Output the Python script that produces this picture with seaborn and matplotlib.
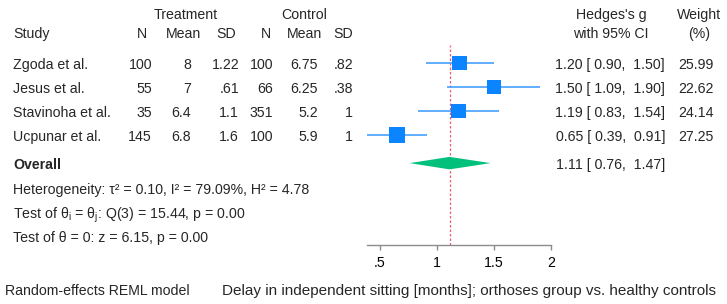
import matplotlib
matplotlib.use("Agg")
import matplotlib.pyplot as plt
import matplotlib.transforms as mtransforms
import seaborn as sns
import pandas as pd

# study data
studies = ["Zgoda et al.", "Jesus et al.", "Stavinoha et al.", "Ucpunar et al."]
t_n = ["100", "55", "35", "145"]
t_mean = ["8", "7", "6.4", "6.8"]
t_sd = ["1.22", ".61", "1.1", "1.6"]
c_n = ["100", "66", "351", "100"]
c_mean = ["6.75", "6.25", "5.2", "5.9"]
c_sd = [".82", ".38", "1", "1"]
g = [1.20, 1.50, 1.19, 0.65]
g_lo = [0.90, 1.09, 0.83, 0.39]
g_hi = [1.50, 1.90, 1.54, 0.91]
weight = [25.99, 22.62, 24.14, 27.25]

overall = (1.11, 0.76, 1.47)
stats_lines = [
    "Heterogeneity: τ² = 0.10, I² = 79.09%, H² = 4.78",
    r"Test of θ$_\mathregular{i}$ = θ$_\mathregular{j}$: Q(3) = 15.44, p = 0.00",
    "Test of θ = 0: z = 6.15, p = 0.00",
]
xticks = [0.5, 1, 1.5, 2]
xtick_labels = [".5", "1", "1.5", "2"]

sns.set_theme(style="white")
plt.rcParams["font.family"] = ["Liberation Sans", "DejaVu Sans"]
plt.rcParams["mathtext.fontset"] = "custom"
plt.rcParams["mathtext.rm"] = "Liberation Sans"
FS = 10.2

W, H = 727, 304
fig = plt.figure(figsize=(W / 100, H / 100), dpi=100)
ax = fig.add_axes([367 / W, (H - 245) / H, 184 / W, 200 / H])

df = pd.DataFrame({"g": g, "lo": g_lo, "hi": g_hi, "w": weight, "row": range(len(g))})
ov_row = 4.17

ax.hlines(df["row"], df["lo"], df["hi"], color="#45a0ff", lw=1.2, zorder=2)
sns.scatterplot(data=df, x="g", y="row", size="w", sizes=(0, 122), size_norm=(0, max(weight)),
                marker="s", color="#0a84ff", linewidth=0, legend=False, ax=ax, zorder=3)
est, lo, hi = overall
ax.fill([lo, est, hi, est], [ov_row, ov_row - 0.26, ov_row, ov_row + 0.26],
        color="#00c07c", lw=0, zorder=3)
ax.axvline(est, color="#ee5a78", lw=0.9, ls=(0, (2, 1.6)), zorder=1)

ax.set_xlim(min(g_lo) - 0.004, 2.0)
ax.set_ylim(7.58, -0.75)
ax.set_xticks(xticks)
ax.set_xticklabels(xtick_labels, fontsize=FS)
ax.set_yticks([])
ax.set_xlabel("")
ax.set_ylabel("")
for s in ["top", "left", "right"]:
    ax.spines[s].set_visible(False)
ax.spines["bottom"].set_color("#8c8c8c")
ax.spines["bottom"].set_linewidth(1.0)
ax.tick_params(axis="x", bottom=True, direction="out", length=3.8, width=1.0,
               color="#8c8c8c", pad=4, labelcolor="black")

tr = mtransforms.blended_transform_factory(fig.transFigure, ax.transData)


def txt(xpx, y, s, ha="left", **kw):
    ax.text(xpx / W, y, s, transform=tr, ha=ha, va="center_baseline", fontsize=FS,
            clip_on=False, **kw)


# headers
txt(186, -2.08, "Treatment", ha="center")
txt(304, -2.08, "Control", ha="center")
txt(611, -2.08, "Hedges's g", ha="center")
txt(699, -2.08, "Weight", ha="center")
txt(13, -1.25, "Study")
for xc, h in zip([141.5, 183.5, 226, 266, 305, 343], ["N", "Mean", "SD", "N", "Mean", "SD"]):
    txt(xc, -1.25, h, ha="center")
txt(611, -1.25, "with 95% CI", ha="center")
txt(699, -1.25, "(%)", ha="center")

# study rows
for i in range(len(studies)):
    txt(13, i, studies[i])
    for xr, col in zip([152, 191, 239, 273, 318, 353], [t_n, t_mean, t_sd, c_n, c_mean, c_sd]):
        txt(xr, i, col[i], ha="right")
    txt(665, i, f"{g[i]:.2f} [{g_lo[i]:5.2f}, {g_hi[i]:5.2f}]", ha="right")
    txt(714, i, f"{weight[i]:.2f}", ha="right")

txt(13, ov_row, "Overall", fontweight="bold")
txt(665, ov_row, f"{est:.2f} [{lo:5.2f}, {hi:5.2f}]", ha="right")
for k, line in enumerate(stats_lines):
    txt(13, ov_row + 1.05 + k, line)

fig.text(5 / W, (H - 291) / H, "Random-effects REML model", fontsize=FS, va="center")
fig.text(222 / W, (H - 291) / H,
         "Delay in independent sitting [months]; orthoses group vs. healthy controls",
         fontsize=10.95, va="center")

fig.savefig("out.png", dpi=100)
